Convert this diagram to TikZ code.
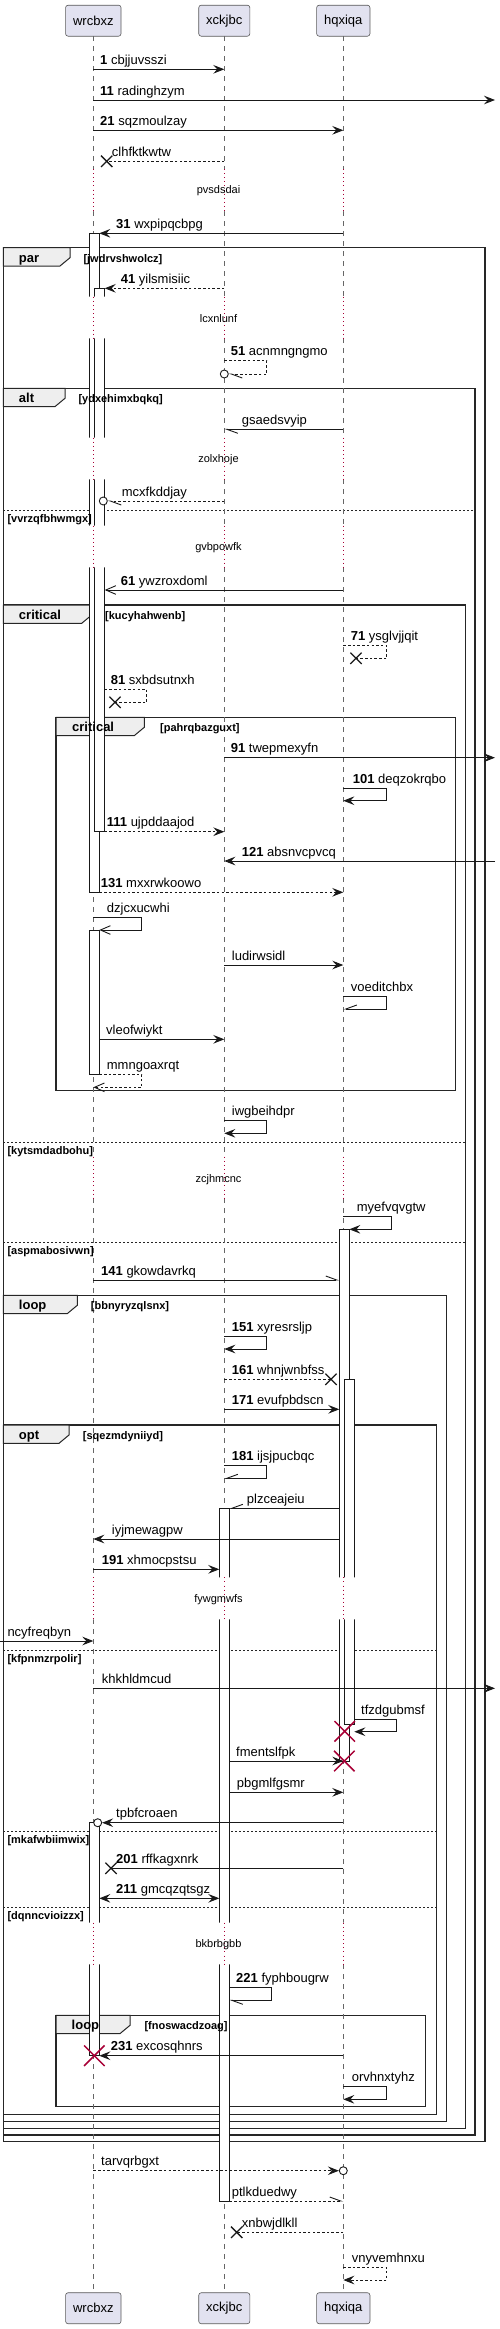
\documentclass[tikz,border=0pt]{standalone}
\usepackage{fontspec}
\setmainfont{Liberation Sans}
\usetikzlibrary{arrows.meta,shapes.misc}

\definecolor{partfill}{HTML}{E2E2F0}
\definecolor{tabfill}{HTML}{EEEEEE}
\definecolor{dotred}{HTML}{A80036}

\tikzset{
  part/.style={draw=black!65, fill=partfill, rounded corners=2.5pt, line width=0.6pt,
    minimum height=31pt, inner xsep=7.5pt, inner ysep=0pt, font=\fontsize{13}{15}\selectfont},
  life/.style={draw=black!60, line width=0.6pt, dash pattern=on 5pt off 5pt},
  delayline/.style={draw=dotred, line width=0.9pt, dash pattern=on 0.9pt off 3.2pt},
  msg/.style={draw=black!90, line width=0.9pt},
  ret/.style={msg, dash pattern=on 2.5pt off 2.2pt},
  fl/.style={->},
  both/.style={<->},
  op/.style={-{Straight Barb[length=10pt,width=8.6pt]}},
  hl/.style={-{Straight Barb[harpoon,length=11pt,width=8pt]}},
  hr/.style={-{Straight Barb[harpoon,swap,length=11pt,width=8pt]}},
  act/.style={draw=black!90, fill=white, line width=0.9pt},
  grp/.style={draw=black!85, line width=1.5pt},
  tab/.style={draw=black!85, fill=tabfill, line width=1pt},
  elseline/.style={draw=black!85, line width=0.9pt, dash pattern=on 2pt off 2pt},
  lbl/.style={anchor=base west, inner sep=0pt, font=\fontsize{13}{15}\selectfont},
  tabtext/.style={anchor=base west, inner sep=0pt, font=\fontsize{13}{15}\selectfont\bfseries},
  cond/.style={anchor=base west, inner sep=0pt, font=\fontsize{11}{13}\selectfont\bfseries},
  dly/.style={inner sep=0pt, font=\fontsize{11}{13}\selectfont},
  lostx/.style={cross out, draw=black!90, line width=1.3pt, minimum size=10pt, inner sep=0pt},
  killx/.style={cross out, draw=dotred, line width=1.5pt, minimum size=19pt, inner sep=0pt},
  endo/.style={circle, draw=black!90, fill=white, line width=0.9pt, minimum size=8pt, inner sep=0pt}
}

\begin{document}
\begin{tikzpicture}[x=1pt, y=-1pt, >={Stealth[length=11pt,width=8.6pt,inset=4pt]}]
\useasboundingbox (0,0) rectangle (500,2329);

\draw[grp] (3.3,247.7) rectangle (485,2141.7);
\draw[tab] (3.3,247.7) -- (70,247.7) -- (70,257.7) -- (60,266) -- (3.3,266) -- cycle;
\draw[grp] (3.3,388.3) rectangle (475,2135);
\draw[tab] (3.3,388.3) -- (65,388.3) -- (65,398.3) -- (55,406.6) -- (3.3,406.6) -- cycle;
\draw[elseline] (3.3,510) -- (475,510);
\draw[grp] (3.3,605) rectangle (465.7,2128.3);
\draw[tab] (3.3,605) -- (91.7,605) -- (91.7,615) -- (81.7,623.3) -- (3.3,623.3) -- cycle;
\draw[elseline] (3.3,1142.3) -- (465.7,1142.3);
\draw[elseline] (3.3,1242.7) -- (465.7,1242.7);
\draw[grp] (56,717.3) rectangle (455.7,1090.7);
\draw[tab] (56,717.3) -- (144.3,717.3) -- (144.3,727.3) -- (134.3,735.6) -- (56,735.6) -- cycle;
\draw[grp] (3.3,1295.3) rectangle (446.7,2121.7);
\draw[tab] (3.3,1295.3) -- (77.3,1295.3) -- (77.3,1305.3) -- (67.3,1313.6) -- (3.3,1313.6) -- cycle;
\draw[grp] (3.3,1425) rectangle (436.7,2114.3);
\draw[tab] (3.3,1425) -- (69,1425) -- (69,1435) -- (59,1443.3) -- (3.3,1443.3) -- cycle;
\draw[elseline] (3.3,1650) -- (436.7,1650);
\draw[elseline] (3.3,1831) -- (436.7,1831);
\draw[elseline] (3.3,1907.3) -- (436.7,1907.3);
\draw[grp] (56,2015.3) rectangle (425.7,2106.7);
\draw[tab] (56,2015.3) -- (130,2015.3) -- (130,2025.3) -- (120,2033.6) -- (56,2033.6) -- cycle;

\node[part] (pw) at (93.3,20.7) {wrcbxz};
\node[part] (px) at (224.3,20.7) {xckjbc};
\node[part] (ph) at (343.3,20.7) {hqxiqa};
\node[part] (pwb) at (93.3,2308.2) {wrcbxz};
\node[part] (pxb) at (224.3,2308.2) {xckjbc};
\node[part] (phb) at (343.3,2308.2) {hqxiqa};

\coordinate (wa) at (99.3,0);
\coordinate (wb) at (104.7,0);
\coordinate (xa) at (219.3,0);
\coordinate (xb) at (229.3,0);
\coordinate (ha) at (339.3,0);
\coordinate (hc) at (349.3,0);
\coordinate (hb) at (354.3,0);
\coordinate (le) at (0,0);
\coordinate (re) at (495,0);

\foreach \p in {pw,px,ph}
  \foreach \a/\b in {36/169,211/296.7,338.3/437.7,479.3/525.7,567.3/1156.7,1198.3/1577.3,1619.3/1922.7,1964.3/2292.3}
    \draw[life] (\p |- 0,\a) -- (\p |- 0,\b);

\draw[act] (89.3,233.3) rectangle (99.3,892.3);
\draw[act] (94.3,288.3) rectangle (104.7,831.7);
\draw[act] (89.3,930) rectangle (99.3,1074.3);
\draw[act] (89.3,1822.7) rectangle (99.3,2055.7);
\draw[act] (219.3,1508.3) rectangle (229.3,2201);
\draw[act] (339.3,1229.3) rectangle (349.3,1761);
\draw[act] (344.3,1379.3) rectangle (354.3,1724);

\foreach \a/\b/\c/\t in {169/211/190.7/pvsdsdai,296.7/338.3/318.3/lcxnlunf,437.7/479.3/459.3/zolxhoje,
    525.7/567.3/547.3/gvbpowfk,1156.7/1198.3/1179.3/zcjhmcnc,1577.3/1619.3/1599.3/fywgmwfs,1922.7/1964.3/1944.3/bkbrbgbb}{
  \fill[white] (80,\a) rectangle (108,\b) (210,\a) rectangle (238,\b) (330,\a) rectangle (358,\b);
  \foreach \p in {pw,px,ph}
    \draw[delayline] (\p |- 0,\a) -- (\p |- 0,\b);
  \node[dly] (\t) at (218.5,\c) {\t};
}

\draw[msg,fl] (pw |- 0,69.3) -- (px |- 0,69.3);
\draw[msg,fl] (pw |- 0,100) -- (re |- 0,100);
\draw[msg,fl] (pw |- 0,130.3) -- (ph |- 0,130.3);
\node[lostx] (k1) at (106.7,161.3) {};
\draw[ret] (px |- 0,161.3) -- (k1.center);
\draw[msg,fl] (ph |- 0,233.3) -- (wa |- 0,233.3);
\draw[ret,fl] (px |- 0,288.3) -- (wb |- 0,288.3);
\node[endo] (o1) at (224.3,374) {};
\draw[ret,hl] (px |- 0,360.7) -- ++(42.4,0) |- (o1.east);
\draw[msg,hl] (ph |- 0,429.3) -- (px |- 0,429.3);
\node[endo] (o2) at (103.3,501) {};
\draw[ret,hl] (px |- 0,501) -- (o2.east);
\draw[msg,op] (ph |- 0,590) -- (wb |- 0,590);
\node[lostx] (k2) at (356,658.3) {};
\draw[ret] (ph |- 0,645.7) -- ++(43.4,0) |- (k2.center);
\node[lostx] (k3) at (115,702.3) {};
\draw[ret] (wb |- 0,689.3) -- ++(42,0) |- (k3.center);
\draw[msg,fl] (px |- 0,757.7) -- (re |- 0,757.7);
\draw[msg,fl] (ph |- 0,788.3) -- ++(43.4,0) |- (ph |- 0,800.7);
\draw[ret,fl] (wb |- 0,831.7) -- (px |- 0,831.7);
\draw[msg,fl] (re |- 0,861) -- (px |- 0,861);
\draw[ret,fl] (wa |- 0,892.3) -- (ph |- 0,892.3);
\draw[msg,op] (pw |- 0,917.3) -- ++(48.4,0) |- (wa |- 0,930);
\draw[msg,fl] (px |- 0,965) -- (ph |- 0,965);
\draw[msg,hr] (ph |- 0,996.7) -- ++(43.4,0) |- (ph |- 0,1009);
\draw[msg,fl] (wa |- 0,1039.3) -- (px |- 0,1039.3);
\draw[ret,op] (wa |- 0,1074.3) -- ++(42.4,0) |- (pw |- 0,1087.3);
\draw[msg,fl] (px |- 0,1120.7) -- ++(42.4,0) |- (px |- 0,1133.3);
\draw[msg,fl] (ph |- 0,1216.7) -- ++(48.4,0) |- (hc |- 0,1229.3);
\draw[msg,hl] (pw |- 0,1280) -- (ha |- 0,1280);
\draw[msg,fl] (px |- 0,1336) -- ++(42.4,0) |- (px |- 0,1349);
\node[lostx] (k4) at (331,1379.3) {};
\draw[ret] (px |- 0,1379.3) -- (k4.center);
\draw[msg,fl] (px |- 0,1409.3) -- (ha |- 0,1409.3);
\draw[msg,hr] (px |- 0,1465.7) -- ++(42.4,0) |- (px |- 0,1478.3);
\draw[msg,hr] (ha |- 0,1508.3) -- (xb |- 0,1508.3);
\draw[msg,fl] (ha |- 0,1539) -- (pw |- 0,1539);
\draw[msg,fl] (pw |- 0,1569.3) -- (xa |- 0,1569.3);
\draw[msg,fl] (le |- 0,1641) -- (pw |- 0,1641);
\draw[msg,fl] (pw |- 0,1688.3) -- (re |- 0,1688.3);
\draw[msg,fl] (hb |- 0,1719) -- ++(42.4,0) |- (hb |- 0,1731.7);
\node[killx] (r1) at (344.7,1731.3) {};
\draw[msg,fl] (xb |- 0,1761) -- (ph |- 0,1761);
\node[killx] (r2) at (344.3,1761) {};
\draw[msg,fl] (xb |- 0,1792.3) -- (ph |- 0,1792.3);
\node[endo] (o3) at (97.7,1822.7) {};
\draw[msg,fl] (ph |- 0,1822.7) -- (o3.east);
\node[lostx] (k5) at (111,1868.3) {};
\draw[msg] (ph |- 0,1868.3) -- (k5.center);
\draw[msg,both] (wa |- 0,1898.3) -- (xa |- 0,1898.3);
\draw[msg,hl] (xb |- 0,1987.7) -- ++(42.4,0) |- (xb |- 0,2000.3);
\draw[msg,fl] (ph |- 0,2055.7) -- (wa |- 0,2055.7);
\node[killx] (r3) at (94.3,2055.7) {};
\draw[msg,fl] (ph |- 0,2086.7) -- ++(43.4,0) |- (ph |- 0,2099.3);
\node[endo] (o4) at (343.3,2170.7) {};
\draw[ret,fl] (pw |- 0,2170.7) -- (o4.west);
\draw[ret,hl] (xb |- 0,2201) -- (ph |- 0,2201);
\node[lostx] (k6) at (236.7,2232.3) {};
\draw[ret] (ph |- 0,2232.3) -- (k6.center);
\draw[ret,fl] (ph |- 0,2267.3) -- ++(43.4,0) |- (ph |- 0,2280);

\node[lbl] (l1) at (100,64.3) {\textbf{1} cbjjuvsszi};
\node[lbl] (l2) at (100,95) {\textbf{11} radinghzym};
\node[lbl] (l3) at (100,125.3) {\textbf{21} sqzmoulzay};
\node[lbl] (l4) at (111.7,156.3) {clhfktkwtw};
\node[lbl] (l5) at (116,228.3) {\textbf{31} wxpipqcbpg};
\node[lbl] (l6) at (120.7,283.3) {\textbf{41} yilsmisiic};
\node[lbl] (l7) at (230.7,355.7) {\textbf{51} acnmngngmo};
\node[lbl] (l8) at (241.7,424.3) {gsaedsvyip};
\node[lbl] (l9) at (121.7,496) {mcxfkddjay};
\node[lbl] (l10) at (120.7,585) {\textbf{61} ywzroxdoml};
\node[lbl] (l11) at (350.7,640.7) {\textbf{71} ysglvjjqit};
\node[lbl] (l12) at (110.7,684.3) {\textbf{81} sxbdsutnxh};
\node[lbl] (l13) at (230.7,752.7) {\textbf{91} twepmexyfn};
\node[lbl] (l14) at (352.7,783.3) {\textbf{101} deqzokrqbo};
\node[lbl] (l15) at (106.7,826.7) {\textbf{111} ujpddaajod};
\node[lbl] (l16) at (241.7,856) {\textbf{121} absnvcpvcq};
\node[lbl] (l17) at (100.7,887.3) {\textbf{131} mxxrwkoowo};
\node[lbl] (l18) at (106.7,912.3) {dzjcxucwhi};
\node[lbl] (l19) at (231.7,960) {ludirwsidl};
\node[lbl] (l20) at (350.7,991.7) {voeditchbx};
\node[lbl] (l21) at (106,1034.3) {vleofwiykt};
\node[lbl] (l22) at (106.7,1069.3) {mmngoaxrqt};
\node[lbl] (l23) at (231.7,1115.7) {iwgbeihdpr};
\node[lbl] (l24) at (356.7,1211.7) {myefvqvgtw};
\node[lbl] (l25) at (101,1275) {\textbf{141} gkowdavrkq};
\node[lbl] (l26) at (231.7,1331) {\textbf{151} xyresrsljp};
\node[lbl] (l27) at (231.7,1374.3) {\textbf{161} whnjwnbfss};
\node[lbl] (l28) at (231.7,1404.3) {\textbf{171} evufpbdscn};
\node[lbl] (l29) at (231.7,1460.7) {\textbf{181} ijsjpucbqc};
\node[lbl] (l30) at (246.7,1503.3) {plzceajeiu};
\node[lbl] (l31) at (111.7,1534) {iyjmewagpw};
\node[lbl] (l32) at (101.7,1564.3) {\textbf{191} xhmocpstsu};
\node[lbl] (l33) at (7.3,1636) {ncyfreqbyn};
\node[lbl] (l34) at (101.7,1683.3) {khkhldmcud};
\node[lbl] (l35) at (361,1714) {tfzdgubmsf};
\node[lbl] (l36) at (236,1756) {fmentslfpk};
\node[lbl] (l37) at (236.7,1787.3) {pbgmlfgsmr};
\node[lbl] (l38) at (116,1817.7) {tpbfcroaen};
\node[lbl] (l39) at (116,1863.3) {\textbf{201} rffkagxnrk};
\node[lbl] (l40) at (116,1893.3) {\textbf{211} gmcqzqtsgz};
\node[lbl] (l41) at (236,1982.7) {\textbf{221} fyphbougrw};
\node[lbl] (l42) at (110.7,2050.7) {\textbf{231} excosqhnrs};
\node[lbl] (l43) at (351.7,2081.7) {orvhnxtyhz};
\node[lbl] (l44) at (101,2165.7) {tarvqrbgxt};
\node[lbl] (l45) at (231.7,2196) {ptlkduedwy};
\node[lbl] (l46) at (241.7,2227.3) {xnbwjdlkll};
\node[lbl] (l47) at (351.7,2262.3) {vnyvemhnxu};

\node[tabtext] (gpar) at (18.8,262.2) {par};
\node[cond] (cpar) at (83.3,262.2) {[jwdrvshwolcz]};
\node[tabtext] (galt) at (18.8,402.8) {alt};
\node[cond] (calt) at (78.3,402.8) {[ydxehimxbqkq]};
\node[cond] (ealt) at (7.3,522) {[vvrzqfbhwmgx]};
\node[tabtext] (gcrit) at (18.8,619.5) {critical};
\node[cond] (ccrit) at (105,619.5) {[kucyhahwenb]};
\node[cond] (ecrita) at (7.3,1154.3) {[kytsmdadbohu]};
\node[cond] (ecritb) at (7.3,1254.7) {[aspmabosivwn]};
\node[tabtext] (gcrit2) at (72,731.8) {critical};
\node[cond] (ccrit2) at (160,731.8) {[pahrqbazguxt]};
\node[tabtext] (gloop) at (18.8,1309.8) {loop};
\node[cond] (cloop) at (90.7,1309.8) {[bbnyryzqlsnx]};
\node[tabtext] (gopt) at (18.8,1439.5) {opt};
\node[cond] (copt) at (82.7,1439.5) {[sqezmdyniiyd]};
\node[cond] (eopta) at (7.3,1662) {[kfpnmzrpolir]};
\node[cond] (eoptb) at (7.3,1843) {[mkafwbiimwix]};
\node[cond] (eoptc) at (7.3,1919.3) {[dqnncvioizzx]};
\node[tabtext] (gloop2) at (71.5,2029.8) {loop};
\node[cond] (cloop2) at (144.3,2029.8) {[fnoswacdzoag]};
\end{tikzpicture}
\end{document}
